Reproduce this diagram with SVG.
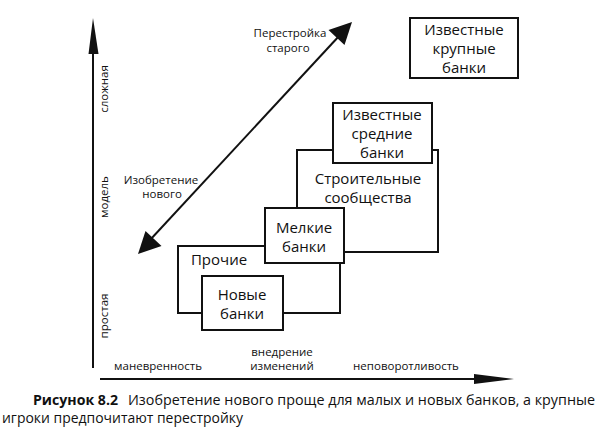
<svg xmlns="http://www.w3.org/2000/svg" width="600" height="436" viewBox="0 0 600 436">
<style>
  .box { fill: #fff; stroke: #111; stroke-width: 2; }
  .ln { stroke: #111; stroke-width: 2; fill: none; }
  .ah { fill: #111; stroke: none; }
  .t { font-family: "Open Sans", "Noto Sans", "Liberation Sans", sans-serif; fill: #111; }
  .big { font-size: 15px; text-anchor: middle; }
  .sm { font-size: 11.5px; text-anchor: middle; }
  .cap { font-size: 14px; }
</style>
<rect width="600" height="436" fill="#fff"/>
<g id="connectors">
  <line class="ln" x1="93" y1="50" x2="93" y2="368"/>
  <polygon class="ah" points="93,18 88.5,54 98.5,54"/>
  <line class="ln" x1="100" y1="379" x2="480" y2="379"/>
  <polygon class="ah" points="514,379 474,374 474,384"/>
  <line class="ln" x1="150" y1="240" x2="340" y2="35"/>
  <polygon class="ah" points="352,22 344.5,45 328.5,30"/>
  <polygon class="ah" points="138,254 145.5,231 161.5,246"/>
</g>
<g id="axis-labels" class="t">
  <text class="sm" transform="translate(108,89) rotate(-90)">сложная</text>
  <text class="sm" transform="translate(108,197) rotate(-90)">модель</text>
  <text class="sm" transform="translate(108,316) rotate(-90)">простая</text>
  <text class="sm" x="158" y="370">маневренность</text>
  <text class="sm" x="282" y="356">внедрение</text>
  <text class="sm" x="282" y="370">изменений</text>
  <text class="sm" x="406" y="370">неповоротливость</text>
  <text class="sm" x="290" y="37">Перестройка</text>
  <text class="sm" x="288" y="52">старого</text>
  <text class="sm" x="161" y="184">Изобретение</text>
  <text class="sm" x="162" y="198">нового</text>
</g>
<g id="node-large">
  <rect class="box" x="410" y="18" width="108" height="60"/>
  <text class="t big" x="464" y="35">Известные</text>
  <text class="t big" x="464" y="54">крупные</text>
  <text class="t big" x="464" y="73">банки</text>
</g>
<g id="node-building">
  <rect class="box" x="297" y="150" width="141" height="102"/>
  <text class="t big" x="368" y="184">Строительные</text>
  <text class="t big" x="368" y="203">сообщества</text>
</g>
<g id="node-medium">
  <rect class="box" x="333" y="103" width="99" height="60"/>
  <text class="t big" x="382" y="120">Известные</text>
  <text class="t big" x="382" y="139">средние</text>
  <text class="t big" x="382" y="158">банки</text>
</g>
<g id="node-other">
  <rect class="box" x="178" y="246" width="162" height="67"/>
  <text class="t big" x="219" y="265">Прочие</text>
</g>
<g id="node-new">
  <rect class="box" x="202" y="276" width="81" height="54"/>
  <text class="t big" x="242" y="300">Новые</text>
  <text class="t big" x="242" y="319">банки</text>
</g>
<g id="node-small">
  <rect class="box" x="265" y="208" width="79" height="55"/>
  <text class="t big" x="304" y="233">Мелкие</text>
  <text class="t big" x="304" y="252">банки</text>
</g>
<g id="caption" class="t cap">
  <text x="33" y="405" font-weight="bold" textLength="85" lengthAdjust="spacingAndGlyphs">Рисунок 8.2</text>
  <text x="128" y="405" textLength="467" lengthAdjust="spacingAndGlyphs">Изобретение нового проще для малых и новых банков, а крупные</text>
  <text x="2" y="423" textLength="241" lengthAdjust="spacingAndGlyphs">игроки предпочитают перестройку</text>
</g>
</svg>
